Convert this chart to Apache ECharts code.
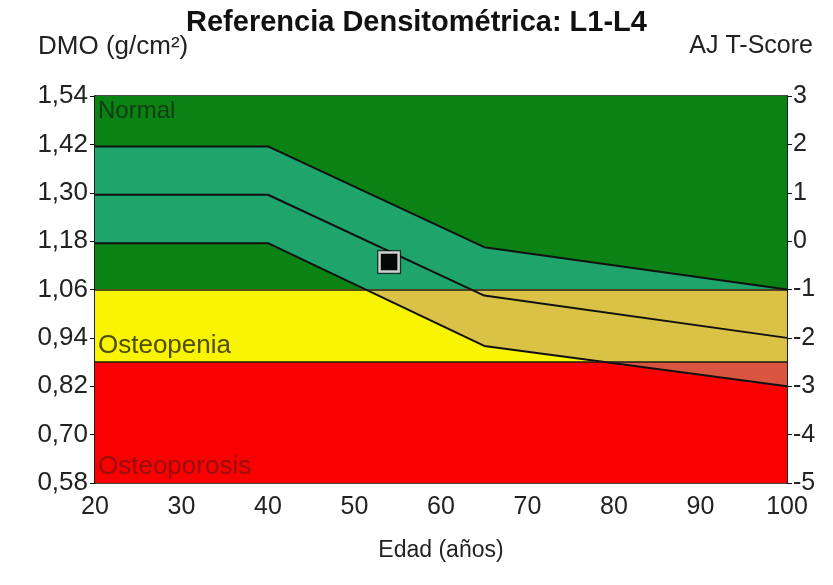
<!DOCTYPE html>
<html><head><meta charset="utf-8">
<script src="https://cdn.jsdelivr.net/npm/echarts@6/dist/echarts.min.js"></script>
<style>html,body{margin:0;padding:0;background:#fff}#c{width:833px;height:585px}</style>
</head><body><div id="c"></div>
<script>
// ---- data ----
const ages = [20, 40, 65, 100];
const refUpper = [1.415, 1.415, 1.165, 1.06];   // +1 SD
const refMean  = [1.295, 1.295, 1.045, 0.94];   // mean
const refLower = [1.175, 1.175, 0.92, 0.82];    // -1 SD
const patient = [[54, 1.128]];
const zoneNames = ['Normal', 'Osteopenia', 'Osteoporosis'];
const zoneFrom = [1.06, 0.88, 0.58];
const zoneTo = [1.54, 1.06, 0.88];
const dmoMin = 0.58, dmoMax = 1.54, dmoStep = 0.12;
const tMin = -5, tMax = 3, tStep = 1;
const ageMin = 20, ageMax = 100, ageStep = 10;

// ---- styles ----
const FONT = "'Liberation Sans', Arial, sans-serif";
const zoneColors = ['#0b8214', '#f9f400', '#fa0000'];
const bandColors = ['#1fa46c', '#d9c245', '#d9553f'];
const zoneTextColors = ['#123c12', '#4f4c06', '#951010'];
const zoneLabelPos = ['insideTopLeft', 'insideBottomLeft', 'insideBottomLeft'];
const zoneLabelSize = [24, 26, 26];

const pairs = ys => ages.map((a, i) => [a, ys[i]]);
const piecesFor = cols => [
  {lt: zoneTo[2], color: cols[2]},
  {gte: zoneFrom[1], lt: zoneTo[1], color: cols[1]},
  {gte: zoneFrom[0], color: cols[0]}
];

const chart = echarts.init(document.getElementById('c'), null, {renderer: 'canvas'});
const option = {
  animation: false,
  backgroundColor: '#fff',
  textStyle: {fontFamily: FONT},
  title: {
    text: 'Referencia Densitométrica: L1-L4',
    left: 'center', top: 3,
    textStyle: {fontFamily: FONT, fontSize: 29, fontWeight: 'bold', color: '#111'}
  },
  graphic: [
    {type: 'text', left: 38, top: 34, style: {text: 'DMO (g/cm²)', font: '26px ' + FONT, fill: '#222'}},
    {type: 'text', right: 20, top: 34, style: {text: 'AJ T-Score', font: '25px ' + FONT, fill: '#222'}}
  ],
  grid: {left: 95, right: 46, top: 96, bottom: 102, show: true, borderColor: '#111', borderWidth: 1.5},
  visualMap: [
    {type: 'piecewise', show: false, dimension: 1, seriesIndex: 1, pieces: piecesFor(bandColors)},
    {type: 'piecewise', show: false, dimension: 1, seriesIndex: 2, pieces: piecesFor(zoneColors)}
  ],
  xAxis: {
    type: 'value', min: ageMin, max: ageMax, interval: ageStep,
    name: 'Edad (años)', nameLocation: 'middle', nameGap: 56,
    nameTextStyle: {fontSize: 23, color: '#222', fontFamily: FONT},
    axisLine: {lineStyle: {color: '#111', width: 1.5}},
    axisTick: {show: true, length: 5, lineStyle: {color: '#111'}},
    minorTick: {show: true, splitNumber: 2, length: 5, lineStyle: {color: '#111'}},
    splitLine: {show: false},
    axisLabel: {fontSize: 25, color: '#222', margin: 12, fontFamily: FONT}
  },
  yAxis: [
    {
      type: 'value', min: dmoMin, max: dmoMax, interval: dmoStep, position: 'left',
      axisLine: {show: true, lineStyle: {color: '#111', width: 1.5}},
      axisTick: {show: true, length: 5, lineStyle: {color: '#111'}},
      splitLine: {show: false},
      axisLabel: {fontSize: 26, color: '#222', margin: 7, fontFamily: FONT,
        formatter: v => v.toFixed(2).replace('.', ',')}
    },
    {
      type: 'value', min: tMin, max: tMax, interval: tStep, position: 'right',
      axisLine: {show: true, lineStyle: {color: '#111', width: 1.5}},
      axisTick: {show: true, length: 5, lineStyle: {color: '#111'}},
      splitLine: {show: false},
      axisLabel: {fontSize: 25, color: '#222', margin: 6, fontFamily: FONT}
    }
  ],
  series: [
    { // background zones
      type: 'line', data: pairs(refUpper), symbol: 'none', z: 1, silent: true,
      lineStyle: {width: 0, opacity: 0},
      markArea: {silent: true, z: 1, data: zoneNames.map((n, i) => [
        {yAxis: zoneFrom[i], itemStyle: {color: zoneColors[i], opacity: 1}},
        {yAxis: zoneTo[i]}
      ])}
    },
    { // band fill (upper curve down)
      type: 'line', data: pairs(refUpper), symbol: 'none', z: 2, silent: true,
      lineStyle: {width: 0}, areaStyle: {opacity: 1}
    },
    { // restore zone colour below lower curve
      type: 'line', data: pairs(refLower), symbol: 'none', z: 3, silent: true,
      lineStyle: {width: 0}, areaStyle: {opacity: 1}
    },
    { // zone boundaries + labels
      type: 'line', data: pairs(refUpper), symbol: 'none', z: 4, silent: true,
      lineStyle: {width: 0, opacity: 0},
      markLine: {silent: true, z: 8, symbol: 'none', label: {show: false},
        lineStyle: {color: '#1a1a1a', width: 1.5, type: 'solid'},
        data: [{yAxis: zoneFrom[0]}, {yAxis: zoneFrom[1]}]},
      markArea: {silent: true, z: 9, data: zoneNames.map((n, i) => [
        {yAxis: zoneFrom[i], name: n, itemStyle: {color: 'rgba(0,0,0,0)'},
         label: {show: true, position: zoneLabelPos[i], distance: 3, fontSize: zoneLabelSize[i],
           color: zoneTextColors[i], fontFamily: FONT}},
        {yAxis: zoneTo[i]}
      ])}
    },
    {type: 'line', data: pairs(refUpper), symbol: 'none', z: 5, lineStyle: {color: '#111', width: 2}},
    {type: 'line', data: pairs(refMean), symbol: 'none', z: 5, lineStyle: {color: '#111', width: 2}},
    {type: 'line', data: pairs(refLower), symbol: 'none', z: 5, lineStyle: {color: '#111', width: 2}},
    {type: 'scatter', data: patient, symbol: 'rect', symbolSize: 24, z: 10,
      itemStyle: {color: '#111'}},
    {type: 'scatter', data: patient, symbol: 'rect', symbolSize: 19, z: 11,
      itemStyle: {color: '#000', borderColor: '#fff', borderWidth: 2.5}}
  ]
};
chart.setOption(option);
</script>
</body></html>
